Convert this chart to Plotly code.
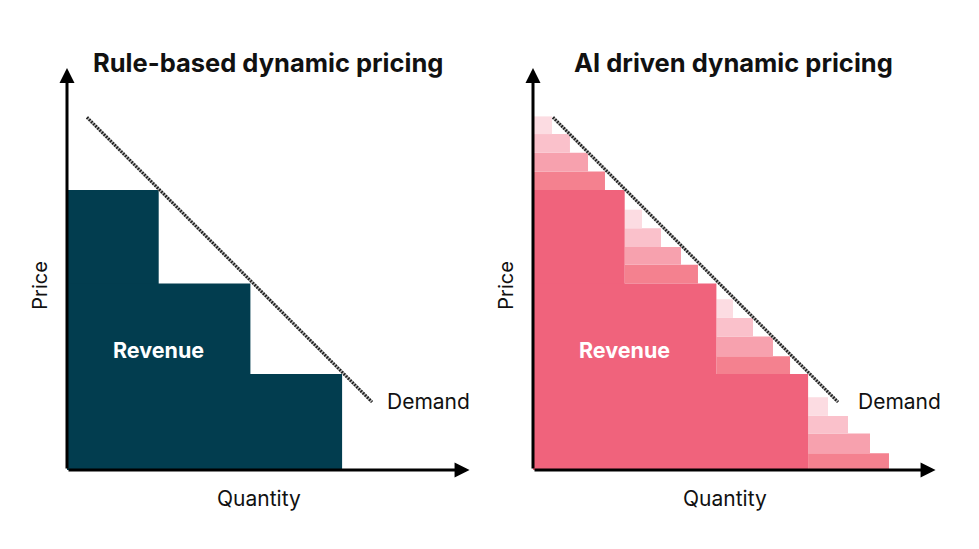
import plotly.graph_objects as go

W, H = 979, 549

# ---- data (abstract units) ----
titles = ["Rule-based dynamic pricing", "AI driven dynamic pricing"]
step_q_edges = [0.0, 1.0, 2.0, 3.0]          # quantity breakpoints of the revenue steps
step_prices = [3.0, 2.0, 1.03]               # price of each step
demand_q = [0.218, 3.326]
demand_p = [3.78, 0.729]
axis_q_max = 4.39
axis_p_max = 4.31

# AI panel: extra captured strips above each step (4 strips per region)
strip_base = [3.0, 2.0, 1.03, 0.0]
strip_tops = [
    [3.20, 3.40, 3.60, 3.79],
    [2.20, 2.39, 2.59, 2.79],
    [1.22, 1.43, 1.63, 1.83],
    [0.18, 0.39, 0.58, 0.78],
]
strip_q_end = [
    [0.785, 0.600, 0.403, 0.207],
    [1.799, 1.614, 1.396, 1.189],
    [2.803, 2.617, 2.399, 2.181],
    [3.882, 3.675, 3.435, 3.217],
]
strip_colors = ["#F4818F", "#F7A1AE", "#FAC1CB", "#FCDCE2"]

teal = "#023D4F"
pink = "#F0637C"

# ---- pixel calibration (layout) ----
ux, uy = 91.7, 93.3
origins_px = [67, 533]
base_px = 470
split = 489.5

fig = go.Figure()

def rect(xref, yref, x0, x1, y0, y1, color):
    fig.add_shape(type="rect", xref=xref, yref=yref, x0=x0, x1=x1, y0=y0, y1=y1,
                  fillcolor=color, line=dict(width=0), layer="below")

for i in range(2):
    xr = "x" if i == 0 else "x2"
    yr = "y" if i == 0 else "y2"
    fill = teal if i == 0 else pink
    # strips (AI panel), drawn first so the main area overlaps their lower edge
    if i == 1:
        for r in range(4):
            for j in range(4):
                y0 = strip_base[r] if j == 0 else strip_tops[r][j - 1]
                rect(xr, yr, step_q_edges[r], strip_q_end[r][j], y0, strip_tops[r][j], strip_colors[j])
    # main revenue steps: nested rectangles (no seams)
    for k, p in enumerate(step_prices):
        rect(xr, yr, step_q_edges[0], step_q_edges[k + 1], 0, p, fill)
    # demand line
    fig.add_trace(go.Scatter(x=demand_q, y=demand_p, mode="lines", xaxis=xr, yaxis=yr,
                             line=dict(color="#b0b0b0", width=3), hoverinfo="skip", showlegend=False))
    fig.add_trace(go.Scatter(x=demand_q, y=demand_p, mode="lines", xaxis=xr, yaxis=yr,
                             line=dict(color="#1a1a1a", width=3, dash="1.5px,1.5px"), hoverinfo="skip", showlegend=False))
    # axes arrows
    fig.add_annotation(x=axis_q_max, y=0, ax=0, ay=0, xref=xr, yref=yr, axref=xr, ayref=yr,
                       showarrow=True, arrowhead=2, arrowsize=1.0, arrowwidth=3, arrowcolor="black", text="")
    fig.add_annotation(x=0, y=axis_p_max, ax=0, ay=0, xref=xr, yref=yr, axref=xr, ayref=yr,
                       showarrow=True, arrowhead=2, arrowsize=1.0, arrowwidth=3, arrowcolor="black", text="")
    # texts
    fig.add_annotation(x=2.19, y=4.37, xref=xr, yref=yr, text="<b>" + titles[i] + "</b>", showarrow=False,
                       font=dict(family="Inter", size=25.5, color="#111111"))
    fig.add_annotation(x=1.0, y=1.29, xref=xr, yref=yr, text="<b>Revenue</b>", showarrow=False,
                       font=dict(family="Inter", size=21.5, color="white"))
    fig.add_annotation(x=-0.29, y=1.98, xref=xr, yref=yr, text="Price", textangle=-90, showarrow=False,
                       font=dict(family="Inter", size=20, color="#111111"))
    fig.add_annotation(x=2.09, y=-0.31, xref=xr, yref=yr, text="Quantity", showarrow=False,
                       font=dict(family="Inter", size=21, color="#111111"))
    fig.add_annotation(x=3.468 if i == 0 else 3.522, y=0.73, xref=xr, yref=yr, text="Demand",
                       showarrow=False, xanchor="left", font=dict(family="Inter", size=21, color="#111111"))

yrange = [-(H - base_px) / uy, base_px / uy]
ax_common = dict(showgrid=False, zeroline=False, showticklabels=False, ticks="", showline=False, fixedrange=True)
fig.update_layout(
    width=W, height=H, margin=dict(l=0, r=0, t=0, b=0),
    paper_bgcolor="white", plot_bgcolor="white", showlegend=False,
    xaxis=dict(domain=[0, split / W], range=[-origins_px[0] / ux, (split - origins_px[0]) / ux], **ax_common),
    xaxis2=dict(domain=[split / W, 1], range=[-(origins_px[1] - split) / ux, (W - origins_px[1]) / ux], **ax_common),
    yaxis=dict(domain=[0, 1], range=yrange, **ax_common),
    yaxis2=dict(domain=[0, 1], range=yrange, anchor="x2", **ax_common),
)
fig.update_layout(xaxis2_anchor="y2")

fig.write_html("out.html")
